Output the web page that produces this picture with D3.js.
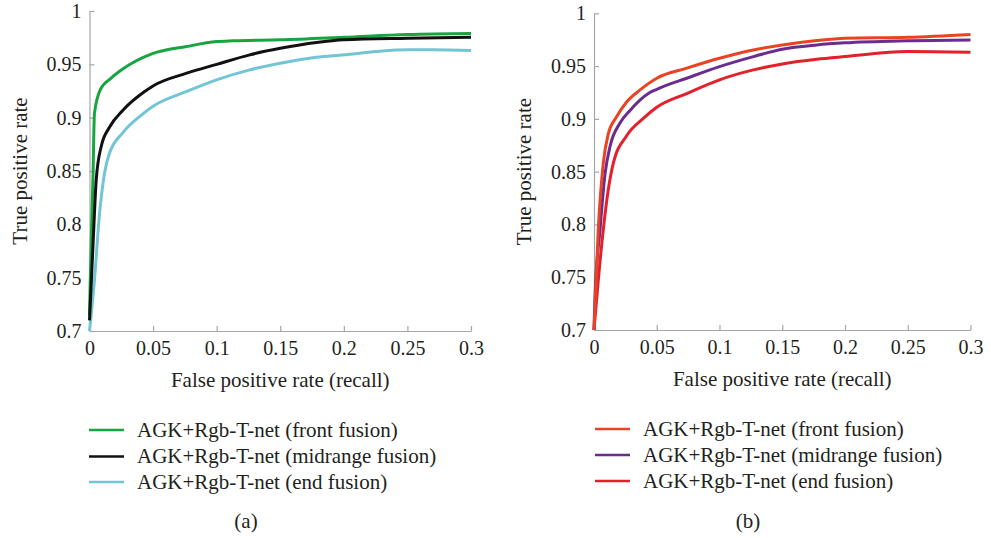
<!DOCTYPE html>
<html>
<head>
<meta charset="utf-8">
<script src="https://cdn.jsdelivr.net/npm/d3@7"></script>
<style>
  body { margin: 0; background: #fff; }
  svg text { font-family: "Liberation Serif", "Times New Roman", serif; fill: #231f20; }
  .axis path, .axis line { stroke: #a6a6a6; stroke-width: 1.2px; }
  .axis text { font-size: 20px; }
</style>
</head>
<body>
<svg id="chart" width="991" height="538"></svg>
<script>
// tick values and labels
const xTicks = [0, 0.05, 0.1, 0.15, 0.2, 0.25, 0.3];
const xTickLabels = ['0', '0.05', '0.1', '0.15', '0.2', '0.25', '0.3'];
const yTicks = [0.7, 0.75, 0.8, 0.85, 0.9, 0.95, 1];
const yTickLabels = ['0.7', '0.75', '0.8', '0.85', '0.9', '0.95', '1'];

const seriesNames = [
  'AGK+Rgb-T-net (front fusion)',
  'AGK+Rgb-T-net (midrange fusion)',
  'AGK+Rgb-T-net (end fusion)',
];

// panel (a)
const frontAx = [0, 0.0006, 0.0027, 0.0039, 0.0084, 0.017, 0.0267, 0.0495, 0.0764, 0.1, 0.113, 0.15, 0.2, 0.25, 0.3];
const frontAy = [0.715, 0.748, 0.842, 0.904, 0.926, 0.937, 0.946, 0.960, 0.9667, 0.9713, 0.972, 0.973, 0.9754, 0.978, 0.979];
const midAx = [0, 0.0027, 0.0053, 0.0092, 0.0157, 0.0263, 0.0428, 0.0503, 0.0764, 0.1, 0.126, 0.15, 0.1785, 0.2, 0.25, 0.3];
const midAy = [0.71, 0.779, 0.842, 0.873, 0.891, 0.907, 0.924, 0.930, 0.9417, 0.950, 0.9589, 0.965, 0.9705, 0.973, 0.9745, 0.9755];
const endAx = [0, 0.0039, 0.0079, 0.0118, 0.0157, 0.0263, 0.0398, 0.0503, 0.0764, 0.1, 0.126, 0.15, 0.1785, 0.2, 0.2257, 0.25, 0.27, 0.3];
const endAy = [0.70, 0.748, 0.81, 0.848, 0.8666, 0.886, 0.9015, 0.911, 0.9246, 0.9355, 0.9448, 0.951, 0.9567, 0.9589, 0.962, 0.9636, 0.9636, 0.963];

// panel (b)
const frontBx = [0, 0.0034, 0.0074, 0.0114, 0.018, 0.026, 0.0367, 0.05, 0.0739, 0.1, 0.127, 0.15, 0.1775, 0.2, 0.25, 0.3];
const frontBy = [0.70, 0.795, 0.858, 0.886, 0.902, 0.916, 0.9274, 0.9385, 0.948, 0.9574, 0.9653, 0.970, 0.9742, 0.9764, 0.9773, 0.980];
const midBx = [0, 0.0008, 0.0048, 0.0088, 0.0128, 0.0207, 0.0287, 0.0433, 0.05, 0.0739, 0.1, 0.127, 0.15, 0.1775, 0.2, 0.25, 0.3];
const midBy = [0.70, 0.732, 0.795, 0.848, 0.874, 0.896, 0.908, 0.924, 0.928, 0.9385, 0.9495, 0.959, 0.966, 0.970, 0.972, 0.974, 0.9748];
const endBx = [0, 0.0034, 0.0074, 0.0114, 0.0154, 0.026, 0.0393, 0.05, 0.0739, 0.1, 0.127, 0.15, 0.1775, 0.2, 0.25, 0.3];
const endBy = [0.70, 0.747, 0.795, 0.833, 0.858, 0.884, 0.9005, 0.911, 0.924, 0.937, 0.9464, 0.952, 0.9565, 0.959, 0.9637, 0.963];

const svg = d3.select('#chart');

function zip(xs, ys) {
  return xs.map((x, i) => ({ x, y: ys[i] }));
}

function drawPanel(opt) {
  const x = d3.scaleLinear().domain([0, 0.3]).range([opt.left, opt.right]);
  const y = d3.scaleLinear().domain([0.7, 1]).range([opt.bottom, opt.top]);

  const xAxis = d3.axisBottom(x)
    .tickValues(xTicks)
    .tickFormat((d, i) => xTickLabels[i])
    .tickSizeInner(-5)
    .tickSizeOuter(0)
    .tickPadding(10);
  const yAxis = d3.axisLeft(y)
    .tickValues(yTicks)
    .tickFormat((d, i) => yTickLabels[i])
    .tickSizeInner(-5)
    .tickSizeOuter(0)
    .tickPadding(8);

  const gx = svg.append('g')
    .attr('class', 'axis')
    .attr('transform', `translate(0, ${opt.bottom})`)
    .call(xAxis);
  const gy = svg.append('g')
    .attr('class', 'axis')
    .attr('transform', `translate(${opt.left}, 0)`)
    .call(yAxis);
  [gx, gy].forEach(g => {
    g.attr('font-family', null).attr('font-size', null);
    g.select('.domain').attr('stroke', '#a6a6a6');
    g.selectAll('text').attr('fill', '#231f20');
  });

  // axis titles
  svg.append('text')
    .attr('x', (opt.left + opt.right) / 2)
    .attr('y', opt.bottom + 56)
    .attr('text-anchor', 'middle')
    .style('font-size', '21px')
    .text('False positive rate (recall)');
  svg.append('text')
    .attr('transform', `translate(${opt.left - 63}, ${(opt.top + opt.bottom) / 2}) rotate(-90)`)
    .attr('text-anchor', 'middle')
    .style('font-size', '21px')
    .text('True positive rate');

  const line = d3.line()
    .x(d => x(d.x))
    .y(d => y(d.y))
    .curve(d3.curveMonotoneX);

  opt.series.forEach(s => {
    svg.append('path')
      .datum(zip(s.xs, s.ys))
      .attr('fill', 'none')
      .attr('stroke', s.color)
      .attr('stroke-width', 3)
      .attr('stroke-linejoin', 'round')
      .attr('d', line);
  });

  // legend, in series order
  const legendOrder = ['front', 'mid', 'end'].map(k => opt.series.find(s => s.key === k));
  legendOrder.forEach((s, i) => {
    const ly = opt.legendY[i];
    svg.append('line')
      .attr('x1', opt.legendX).attr('x2', opt.legendX + 35)
      .attr('y1', ly).attr('y2', ly)
      .attr('stroke', s.color)
      .attr('stroke-width', 2.5);
    svg.append('text')
      .attr('x', opt.legendX + 48)
      .attr('y', ly + 6.5)
      .style('font-size', '21px')
      .text(seriesNames[i]);
  });

  svg.append('text')
    .attr('x', opt.captionX)
    .attr('y', 528)
    .attr('text-anchor', 'middle')
    .style('font-size', '21px')
    .text(opt.caption);
}

drawPanel({
  left: 89.5, right: 471, top: 11, bottom: 331,
  legendX: 89, legendY: [430, 456.5, 482],
  captionX: 246, caption: '(a)',
  series: [
    { key: 'end', xs: endAx, ys: endAy, color: '#72c5d5' },
    { key: 'front', xs: frontAx, ys: frontAy, color: '#17a540' },
    { key: 'mid', xs: midAx, ys: midAy, color: '#111111' },
  ],
});

drawPanel({
  left: 594, right: 970.5, top: 13.3, bottom: 330,
  legendX: 595, legendY: [429, 455, 481],
  captionX: 748, caption: '(b)',
  series: [
    { key: 'end', xs: endBx, ys: endBy, color: '#e4202a' },
    { key: 'mid', xs: midBx, ys: midBy, color: '#6a2c8f' },
    { key: 'front', xs: frontBx, ys: frontBy, color: '#ea4324' },
  ],
});
</script>
</body>
</html>
